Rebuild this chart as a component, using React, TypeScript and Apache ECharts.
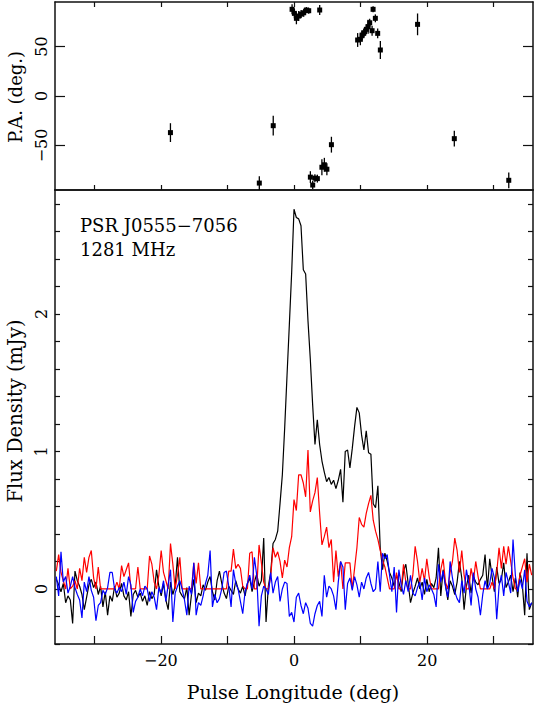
import React, { useEffect, useRef } from 'react';
import * as echarts from 'echarts';

// Pulse longitude bins: start and step (deg)
const LON_START = -35.7;
const LON_STEP = 0.35;

// Total intensity (mJy)
const totalI = [
  0.07, 0.03, -0.02, 0.04, -0.10, -0.05, -0.08, -0.25, 0.13, 0.06,
  0.02, -0.04, -0.15, -0.06, 0.03, 0.07, 0.01, 0.05, -0.04, 0.02,
  -0.13, -0.02, -0.19, -0.05, -0.09, 0.02, -0.06, -0.03, 0.04, -0.05,
  -0.08, -0.02, -0.20, -0.04, -0.01, -0.06, -0.03, -0.09, -0.05, -0.12,
  -0.02, -0.07, -0.04, 0.14, 0.02, -0.05, 0.04, -0.08, -0.15, 0.05,
  -0.04, 0.02, 0.23, -0.02, -0.05, -0.07, 0.01, -0.19, -0.04, 0.07,
  -0.10, -0.03, -0.05, 0.03, -0.01, 0.05, 0.09, -0.02, -0.08, 0.06,
  0.13, 0.04, -0.03, -0.07, 0.02, -0.01, -0.04, 0.06, 0.00, -0.03,
  0.02, -0.05, 0.04, 0.08, -0.02, 0.05, 0.11, 0.02, 0.06, 0.37,
  -0.24, 0.02, 0.12, 0.33, 0.36, 0.42, 0.62, 0.83, 1.17, 1.55, 1.92, 2.30,
  2.76, 2.70, 2.69, 2.64, 2.32, 2.29, 1.95, 1.67, 1.34, 1.05,
  1.23, 1.05, 0.93, 0.85, 0.78, 0.81, 0.76, 0.79, 0.73, 0.79,
  0.87, 0.63, 1.00, 1.01, 0.88, 1.02, 1.18, 1.32, 1.28, 1.12,
  1.01, 1.15, 0.99, 0.98, 0.62, 0.59, 0.75, 0.30, 0.14, 0.26,
  0.20, 0.12, 0.08, 0.02, 0.10, 0.05, -0.02, 0.13, 0.18, 0.04,
  -0.10, -0.03, 0.02, 0.08, 0.00, 0.05, -0.04, 0.07, -0.02, 0.04,
  0.01, 0.08, 0.30, -0.05, 0.14, 0.03, -0.08, 0.06, 0.02, -0.04,
  0.05, 0.20, 0.08, -0.15, 0.02, 0.10, -0.03, 0.09, 0.05, 0.03,
  0.07, 0.10, 0.25, 0.00, 0.22, 0.09, -0.02, 0.16, 0.04, 0.07,
  0.19, 0.01, 0.05, 0.10, -0.02, 0.08, -0.06, 0.12, 0.03, -0.19,
  0.26, -0.15, -0.10,
];

// Linear polarisation (mJy)
const linearL = [
  0.13, 0.25, 0.12, 0.06, 0.00, 0.15, 0.00, 0.02, 0.06, 0.00,
  0.15, 0.06, 0.23, 0.12, 0.23, 0.28, 0.08, 0.00, 0.16, 0.00,
  0.00, 0.00, 0.00, 0.00, 0.00, 0.00, 0.05, 0.00, 0.17, 0.09,
  0.14, 0.19, 0.00, 0.00, 0.00, 0.16, 0.00, 0.00, 0.00, 0.00,
  0.24, 0.18, 0.05, 0.00, 0.10, 0.28, 0.12, 0.06, 0.00, 0.33,
  0.18, 0.00, 0.10, 0.23, 0.00, 0.00, 0.00, 0.00, 0.00, 0.19,
  0.04, 0.19, 0.00, 0.00, 0.00, 0.00, 0.00, 0.00, 0.00, 0.00,
  0.00, 0.00, 0.00, 0.00, 0.13, 0.13, 0.29, 0.15, 0.18, 0.15,
  0.02, 0.00, 0.00, 0.26, 0.27, 0.00, 0.00, 0.32, 0.19, 0.05,
  0.00, 0.00, 0.09, 0.30, 0.23, 0.27, 0.20, 0.08, 0.21, 0.16, 0.30, 0.38,
  0.65, 0.57, 0.83, 0.83, 0.77, 0.67, 1.01, 0.56, 0.64, 0.70,
  0.81, 0.55, 0.32, 0.38, 0.45, 0.30, 0.36, 0.05, 0.28, 0.09,
  0.20, 0.00, 0.19, 0.19, 0.19, 0.00, 0.15, 0.30, 0.52, 0.47,
  0.45, 0.55, 0.62, 0.68, 0.50, 0.42, 0.36, 0.28, 0.21, 0.16,
  0.08, 0.00,
  0.00, 0.00, 0.12, 0.00, 0.00, 0.18, 0.05, 0.00,
  0.00, 0.10, 0.31, 0.20, 0.05, 0.15, 0.06, 0.22, 0.09, 0.00,
  0.00, 0.00, 0.00, 0.14, 0.22, 0.05, 0.00, 0.12, 0.20, 0.37,
  0.28, 0.12, 0.28, 0.10, 0.00, 0.00, 0.15, 0.06, 0.20, 0.09,
  0.00, 0.00, 0.00, 0.00, 0.00, 0.05, 0.00, 0.12, 0.30, 0.15,
  0.31, 0.18, 0.31, 0.20, 0.08, 0.00, 0.00, 0.10, 0.16, 0.22,
  0.05, 0.18, 0.10,
];

// Circular polarisation (mJy)
const circularV = [
  0.09, -0.05, 0.27, 0.05, 0.09, -0.03, 0.02, 0.09, 0.01, -0.04,
  -0.08, -0.21, 0.05, -0.02, 0.09, -0.01, -0.06, -0.23, -0.12, -0.10,
  -0.01, -0.04, 0.01, 0.12, 0.12, 0.00, -0.03, 0.01, -0.02, 0.05,
  -0.04, 0.09, 0.03, -0.17, -0.09, -0.06, 0.00, -0.05, 0.02, 0.00,
  -0.09, -0.02, -0.06, -0.15, 0.01, -0.03, 0.06, -0.09, 0.03, 0.14,
  -0.24, -0.03, 0.02, 0.06, 0.00, -0.08, -0.19, 0.02, -0.04, 0.19,
  -0.19, -0.10, -0.12, -0.05, 0.04, 0.10, 0.28, -0.13, -0.04, -0.10,
  -0.07, 0.00, 0.12, 0.13, 0.02, -0.13, 0.14, 0.04, 0.00, -0.09,
  -0.18, -0.02, 0.04, 0.10, 0.00, 0.23, 0.10, -0.27, -0.05, 0.02,
  0.00, -0.04, 0.12, -0.03, 0.05, 0.09, -0.09, 0.00, 0.05, 0.04,
  -0.20, -0.17,
  -0.24, -0.06, -0.03, -0.12, -0.18, -0.10, -0.14, -0.25, -0.27, -0.18,
  -0.12, -0.09, -0.20, 0.10, -0.06, 0.02, 0.00, -0.05, -0.15, 0.05,
  0.20, 0.16, -0.15, 0.04,
  0.08, -0.01, 0.09, 0.03, -0.06, 0.05, 0.00, 0.08, 0.12, 0.04,
  -0.02, 0.00, 0.20, -0.02, 0.26, 0.22,
  0.25, 0.10, -0.02, 0.16, -0.17, 0.14, 0.03, -0.04, 0.06, -0.02,
  0.10, -0.03, -0.05, 0.01, 0.05, -0.08, 0.08, -0.02, 0.03, 0.00,
  -0.04, -0.13, 0.18, 0.05, 0.13, 0.02, -0.06, 0.20, 0.08, -0.02,
  -0.07, -0.10, 0.06, -0.03, 0.14, 0.04, -0.12, 0.12, 0.00, -0.06,
  -0.19, -0.04, 0.06, 0.00, 0.04, 0.15, 0.08, -0.22, 0.02, 0.10,
  -0.05, 0.12, 0.05, -0.03, 0.36, 0.10, -0.02, 0.07, 0.00, 0.14,
  -0.09, -0.13, -0.10,
];

// Position angle points
const paLon = [
  -18.56, -5.21, -3.12, -0.29, 0.06, 0.36, 0.71, 1.07, 1.46, 1.86, 2.21,
  2.46, 2.81, 3.14, 3.51, 3.86, 4.19, 4.56, 4.94, 5.62,
  9.56, 9.97, 10.23, 10.47, 10.87, 11.13, 11.37, 11.73, 11.88, 12.22, 12.57, 12.97,
  18.56, 24.08, 32.26,
];
const paDeg = [
  -37, -88, -30, 87.6, 83.5, 78.5, 80.8, 82.8, 84.1, 86.9, 86.2,
  -82, -90, -83, -83.5, 86.9, -72, -69.5, -74, -49.2,
  56.6, 57.3, 61.6, 63.3, 67.4, 70.0, 74.0, 66.0, 87.6, 78.5, 63.3, 46.5,
  72.4, -43.1, -85.2,
];
const paErr = [
  9.5, 7, 10, 5, 5, 6, 5, 4, 4, 3, 3,
  6, 4, 4, 4, 5, 8, 7, 6, 8,
  7, 6, 5, 5, 5, 7, 4, 5, 3, 4, 5, 9,
  11, 8, 8,
];

// Ticks and labels
const xTicks = [-30, -20, -10, 0, 10, 20, 30];
const xLabels = [-20, 0, 20];
const paTicks = [-50, 0, 50];
const fluxTicks = [-0.4, -0.2, 0, 0.2, 0.4, 0.6, 0.8, 1, 1.2, 1.4, 1.6, 1.8, 2, 2.2, 2.4, 2.6, 2.8];
const fluxLabels = [0, 1, 2];

const FONT = '"DejaVu Serif", serif';
const fmt = (v: number) => String(v).replace('-', '\u2212');

export default function App() {
  const ref = useRef<HTMLDivElement>(null);
  useEffect(() => {
    if (!ref.current) return;
    const chart = echarts.init(ref.current, null, { renderer: 'svg' });
    const pts = (arr: number[]) =>
      arr.map((y, i) => [+(LON_START + i * LON_STEP).toFixed(3), y]);
    const axisLine = { show: true, onZero: false, lineStyle: { color: '#111', width: 1.5 } };
    const tickStyle = { color: '#111', width: 1.2 };
    const xAxis = (gridIndex: number, position: string, tickLen: number, showTicks: boolean, showLabel: boolean) => ({
      type: 'value', gridIndex, position, min: -35.9, max: 35.9,
      axisLine,
      axisTick: { show: showTicks, inside: true, length: tickLen, customValues: xTicks, lineStyle: tickStyle },
      axisLabel: showLabel
        ? { show: true, customValues: xLabels, formatter: fmt, color: '#000', fontFamily: FONT, fontSize: 16, margin: 8 }
        : { show: false },
      splitLine: { show: false },
    });
    const yAxis = (gridIndex: number, position: string, min: number, max: number, ticks: number[], labels: number[] | null, tickLen: number) => ({
      type: 'value', gridIndex, position, min, max,
      axisLine,
      axisTick: { show: true, inside: true, length: tickLen, customValues: ticks, lineStyle: tickStyle },
      axisLabel: labels
        ? { show: true, customValues: labels, formatter: fmt, rotate: 90, color: '#000', fontFamily: FONT, fontSize: 16, margin: 6 }
        : { show: false },
      splitLine: { show: false },
    });
    const textStyle = (t: string, size: number) => ({ text: t, fill: '#000', font: `${size}px ${FONT}` });

    chart.setOption({
      animation: false,
      backgroundColor: '#fff',
      grid: [
        { left: 55, top: 2, width: 478, height: 188 },
        { left: 55, top: 190, width: 478, height: 454 },
      ],
      xAxis: [
        xAxis(0, 'bottom', 5, true, false),
        xAxis(0, 'top', 5, true, false),
        xAxis(1, 'bottom', 8, true, true),
        xAxis(1, 'top', 5, false, false),
      ],
      yAxis: [
        yAxis(0, 'left', -95, 95, paTicks, paTicks, 10),
        yAxis(0, 'right', -95, 95, paTicks, null, 10),
        yAxis(1, 'left', -0.4, 2.9, fluxTicks, fluxLabels, 5),
        yAxis(1, 'right', -0.4, 2.9, fluxTicks, null, 5),
      ],
      graphic: [
        { type: 'text', left: 80, top: 216, style: textStyle('PSR J0555\u22127056', 18) },
        { type: 'text', left: 80, top: 240, style: textStyle('1281 MHz', 18) },
        {
          type: 'text', x: 15, y: 411, rotation: Math.PI / 2,
          style: { ...textStyle('Flux Density (mJy)', 19.5), textAlign: 'center', textVerticalAlign: 'middle' },
        },
        {
          type: 'text', x: 15, y: 97, rotation: Math.PI / 2,
          style: { ...textStyle('P.A. (deg.)', 18), textAlign: 'center', textVerticalAlign: 'middle' },
        },
        {
          type: 'text', x: 293, y: 692,
          style: { ...textStyle('Pulse Longitude (deg)', 19), textAlign: 'center', textVerticalAlign: 'middle' },
        },
      ],
      series: [
        {
          type: 'custom', xAxisIndex: 0, yAxisIndex: 0, clip: true,
          data: paLon.map((x, i) => [x, paDeg[i], paErr[i]]),
          encode: { x: 0, y: 1 },
          renderItem: (_p: any, api: any) => {
            const x = api.value(0), y = api.value(1), e = api.value(2);
            const c = api.coord([x, y]);
            const lo = api.coord([x, y - e]);
            const hi = api.coord([x, y + e]);
            return {
              type: 'group',
              children: [
                { type: 'line', shape: { x1: lo[0], y1: lo[1], x2: hi[0], y2: hi[1] }, style: { stroke: '#000', lineWidth: 1.3 } },
                { type: 'rect', shape: { x: c[0] - 2.5, y: c[1] - 2.5, width: 5, height: 5 }, style: { fill: '#000' } },
              ],
            };
          },
        },
        {
          type: 'line', xAxisIndex: 2, yAxisIndex: 2, data: pts(totalI), showSymbol: false,
          lineStyle: { color: '#000', width: 1.2 }, itemStyle: { color: '#000' },
        },
        {
          type: 'line', xAxisIndex: 2, yAxisIndex: 2, data: pts(linearL), showSymbol: false,
          lineStyle: { color: '#ff0000', width: 1.2 }, itemStyle: { color: '#ff0000' },
        },
        {
          type: 'line', xAxisIndex: 2, yAxisIndex: 2, data: pts(circularV), showSymbol: false,
          lineStyle: { color: '#0000ff', width: 1.2 }, itemStyle: { color: '#0000ff' },
        },
      ],
    });
    return () => chart.dispose();
  }, []);
  return <div ref={ref} style={{ position: 'fixed', left: 0, top: 0, width: 534, height: 708 }} />;
}
